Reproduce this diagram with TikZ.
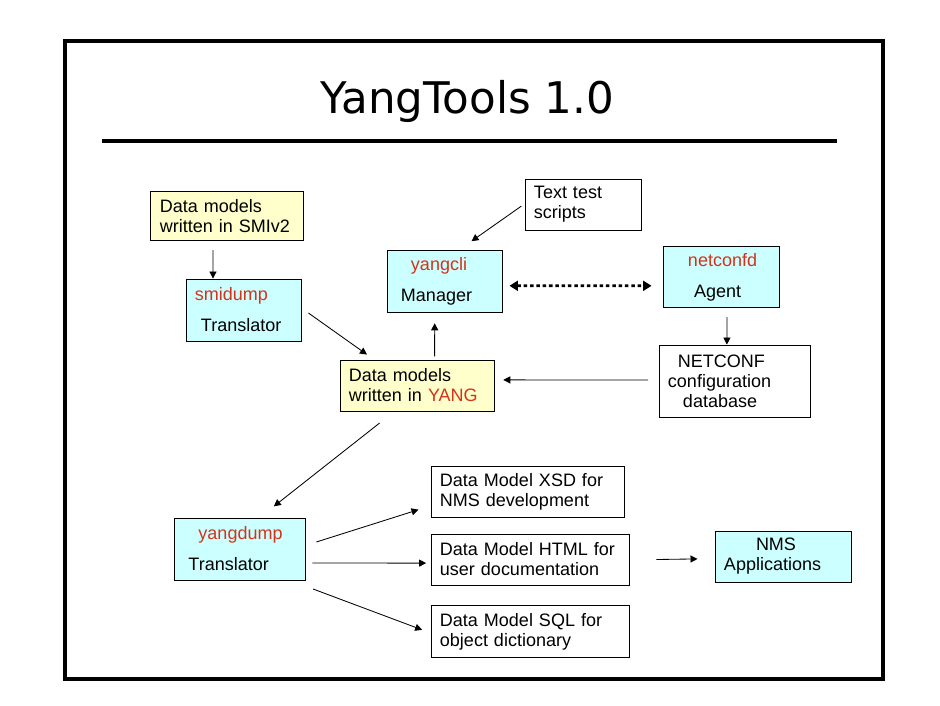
\documentclass[tikz,border=0pt]{standalone}
\usepackage{fontspec}
\setmainfont{Liberation Sans}
\newfontfamily\titlefont{DejaVu Sans}
\usetikzlibrary{arrows.meta, positioning, calc}
\definecolor{YBox}{HTML}{FFFFCC}
\definecolor{CBox}{HTML}{CCFFFF}
\definecolor{CRed}{HTML}{D4331A}
\tikzset{
    plainblock/.style={rectangle, draw=black, fill=white, inner xsep=0.225cm, inner ysep=0pt, minimum height=1.275cm, align=left, font=\fontsize{12.8}{14.2}\selectfont, line width=0.6pt},
    yellowblock/.style={plainblock, fill=YBox},
    cyanblock/.style={plainblock, fill=CBox, minimum height=1.55cm},
    flatarrow/.style={-{Triangle[length=5pt, width=5pt]}, draw=black, line width=0.6pt},
    dotarrow/.style={{Triangle[length=6pt, width=7pt]}-{Triangle[length=6pt, width=7pt]}, draw=black, line width=2pt, dash pattern=on 2.5pt off 2pt}
}
\begin{document}
\begin{tikzpicture}[x=0.025cm, y=-0.025cm]
    \useasboundingbox (0,0) rectangle (940,705);
    % Frame and title
    \draw[line width=2.5pt] (65,41) rectangle (883,679);
    \node[anchor=base, font=\titlefont\fontsize{31}{36}\selectfont] (title) at (467.5,113) {YangTools 1.0};
    \draw[line width=3.5pt] (102,141) -- (837,141);

    % Nodes
    \node[yellowblock, text width=3.375cm, minimum height=1.225cm] (smiv) at (227.3,216.3) {Data models\\written in SMIv2};
    \node[cyanblock, text width=2.425cm] (smid) at (243.5,310) {\textcolor{CRed}{smidump}\\[7.8pt]\hspace*{0.15cm}Translator};
    \node[cyanblock, text width=2.425cm] (cli) at (444.5,281) {\hspace*{0.375cm}\textcolor{CRed}{yangcli}\\[7.8pt]\hspace*{0.125cm}Manager};
    \node[plainblock, text width=2.45cm] (txt) at (583,204.5) {Text test\\scripts};
    \node[cyanblock, text width=2.45cm, minimum height=1.525cm] (ncd) at (721,277) {\hspace*{0.4cm}\textcolor{CRed}{netconfd}\\[7.8pt]\hspace*{0.55cm}Agent};
    \node[plainblock, text width=3.325cm, minimum height=1.8cm] (db) at (734.5,381) {\hspace*{0.25cm}NETCONF\\configuration\\\hspace*{0.375cm}database};
    \node[yellowblock, text width=3.4cm] (yang) at (417,385.5) {Data models\\written in \textcolor{CRed}{YANG}};
    \node[cyanblock, text width=2.825cm] (ydump) at (240,549) {\hspace*{0.375cm}\textcolor{CRed}{yangdump}\\[7.8pt]\hspace*{0.125cm}Translator};
    \node[plainblock, text width=4.5cm] (html) at (530,559.5) {Data Model HTML for\\user documentation};
    \node[plainblock, text width=4.375cm, above=0.4cm of html.north west, anchor=south west] (xsd) {Data Model XSD for\\NMS development};
    \node[plainblock, text width=4.5cm, minimum height=1.3cm, below=0.5cm of html] (sql) {Data Model SQL for\\object dictionary};
    \node[cyanblock, text width=2.95cm, minimum height=1.275cm] (nms) at (783,556.5) {\hspace*{0.8cm}NMS\\Applications};

    % Paths
    \draw[flatarrow] ([xshift=-0.357cm, yshift=-0.225cm]smiv.south) -- ([xshift=-0.7625cm]smid.north);
    \draw[flatarrow] ([xshift=0.175cm, yshift=-0.075cm]smid.east) -- ([xshift=-1.25cm, yshift=0.125cm]yang.north);
    \draw[flatarrow] ([xshift=0.44cm, yshift=0.08cm]yang.north) -- ([xshift=-0.245cm, yshift=-0.27cm]cli.south);
    \draw[flatarrow] ([xshift=-0.08cm, yshift=-0.04cm]txt.west) -- ([xshift=0.675cm, yshift=0.21cm]cli.north);
    \draw[dotarrow] ([xshift=0.175cm, yshift=-0.12cm]cli.east) -- ([xshift=-0.275cm, yshift=-0.22cm]ncd.west);
    \draw[flatarrow] ([xshift=0.15cm, yshift=-0.23cm]ncd.south) -- ([xshift=-0.19cm]db.north);
    \draw[flatarrow] ([xshift=-0.26cm, yshift=0.025cm]db.west) -- ([xshift=0.22cm, yshift=0.14cm]yang.east);
    \draw[flatarrow] ([xshift=-0.935cm, yshift=-0.29cm]yang.south) -- ([xshift=0.845cm, yshift=0.28cm]ydump.north);

    % Outputs of yangdump
    \draw[flatarrow] ([xshift=0.26cm, yshift=0.175cm]ydump.east) -- ([xshift=-0.3cm, yshift=-0.45cm]xsd.west);
    \draw[flatarrow] ([xshift=0.16cm, yshift=-0.35cm]ydump.east) -- ([xshift=-0.11cm, yshift=-0.09cm]html.west);
    \draw[flatarrow] ([xshift=0.18cm, yshift=-1.0cm]ydump.east) -- ([xshift=-0.21cm, yshift=0.05cm]sql.west);
    \draw[flatarrow] ([xshift=0.675cm]html.east) -- ([xshift=-0.425cm, yshift=-0.06cm]nms.west);
\end{tikzpicture}
\end{document}
